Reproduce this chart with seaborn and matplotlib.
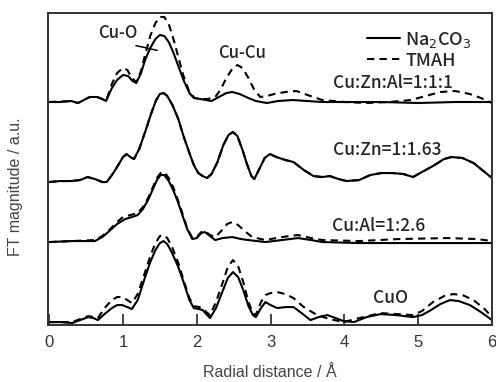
import numpy as np
import pandas as pd
import seaborn as sns
import matplotlib
matplotlib.use("Agg")
import matplotlib.pyplot as plt
from matplotlib.lines import Line2D

# (R in Å, FT magnitude above the curve's own baseline)
znal_na = [(0.0, 0), (0.15, 0), (0.3, 1), (0.39, -1), (0.47, 2), (0.55, 5), (0.65, 5), (0.72, 3),
           (0.77, 1), (0.85, 14), (0.92, 22), (1.0, 27), (1.07, 26), (1.13, 21), (1.18, 19),
           (1.24, 28), (1.3, 42), (1.37, 54), (1.44, 63), (1.5, 67), (1.56, 66), (1.62, 60),
           (1.68, 50), (1.75, 36), (1.82, 22), (1.9, 9), (1.96, 4), (2.05, 3), (2.12, 2), (2.2, 1),
           (2.3, 5), (2.4, 9), (2.48, 10), (2.58, 8), (2.7, 4), (2.8, 1), (2.95, -1), (3.1, 1),
           (3.3, 2), (3.5, 1), (3.7, 0), (4.0, 0), (4.5, 0), (5.0, -1), (5.5, 0), (6.0, 0)]
znal_tm = [(0.0, 0), (0.3, 1), (0.39, -1), (0.47, 2), (0.55, 5), (0.65, 5), (0.72, 3), (0.77, 1),
           (0.85, 18), (0.92, 29), (1.0, 34), (1.06, 32), (1.12, 24), (1.18, 20), (1.24, 30),
           (1.3, 47), (1.37, 66), (1.44, 79), (1.5, 85), (1.56, 85), (1.62, 78), (1.68, 64),
           (1.75, 45), (1.82, 26), (1.9, 10), (1.97, 4), (2.05, 3), (2.15, 3), (2.25, 5), (2.32, 12),
           (2.4, 24), (2.48, 33), (2.55, 37), (2.62, 34), (2.7, 24), (2.78, 12), (2.86, 5), (2.95, 6),
           (3.05, 8), (3.2, 10), (3.35, 11), (3.5, 7), (3.7, 2), (4.0, 0), (4.3, -1), (4.6, 0),
           (4.9, 2), (5.1, 6), (5.3, 10), (5.5, 11), (5.7, 8), (5.85, 4), (6.0, -1)]

zn_na = [(0.0, 0), (0.15, 1), (0.3, 1), (0.42, 2), (0.52, 5), (0.62, 3), (0.72, 0), (0.78, 0),
         (0.85, 7), (0.92, 15), (1.0, 25), (1.05, 28), (1.1, 25), (1.15, 23), (1.22, 33), (1.3, 50),
         (1.38, 68), (1.45, 82), (1.5, 88), (1.55, 89), (1.6, 86), (1.67, 77), (1.75, 63), (1.82, 46),
         (1.9, 29), (1.96, 17), (2.02, 9), (2.08, 6), (2.14, 4), (2.2, 8), (2.28, 20), (2.36, 37),
         (2.43, 47), (2.49, 50), (2.55, 46), (2.62, 32), (2.68, 18), (2.74, 6), (2.78, 3), (2.84, 12),
         (2.92, 24), (2.99, 28), (3.08, 25), (3.2, 22), (3.31, 20), (3.45, 12), (3.58, 6), (3.7, 5),
         (3.8, 6), (3.92, 3), (4.03, 1), (4.2, 2), (4.35, 7), (4.5, 9), (4.65, 9), (4.8, 8), (4.93, 5),
         (5.05, 10), (5.2, 16), (5.35, 23), (5.45, 25), (5.6, 24), (5.75, 19), (5.9, 10), (6.0, 4)]
zn_tm = zn_na  # TMAH trace lies on top of the Na2CO3 one for this sample

al_na = [(0.0, 0), (0.31, 1), (0.62, 1), (0.72, 5), (0.8, 10), (0.92, 18), (1.03, 23), (1.12, 25),
         (1.2, 27), (1.27, 33), (1.34, 42), (1.4, 52), (1.46, 62), (1.51, 67), (1.56, 67), (1.62, 61),
         (1.68, 52), (1.74, 41), (1.8, 28), (1.87, 13), (1.94, 3), (2.0, 4), (2.06, 9), (2.11, 10),
         (2.18, 6), (2.25, 2), (2.35, 4), (2.48, 5), (2.6, 3), (2.7, 2), (2.93, 0), (3.15, 2),
         (3.37, 4), (3.55, 2), (3.7, 0), (4.2, -1), (5.0, -1), (6.0, -1)]
al_tm = [(0.0, 0), (0.31, 1), (0.62, 2), (0.72, 6), (0.8, 11), (0.92, 20), (1.0, 25), (1.1, 27),
         (1.2, 29), (1.27, 35), (1.34, 44), (1.4, 54), (1.46, 64), (1.51, 69), (1.56, 70), (1.62, 64),
         (1.68, 55), (1.74, 43), (1.8, 30), (1.87, 14), (1.94, 4), (2.0, 5), (2.06, 10), (2.11, 11),
         (2.18, 7), (2.25, 5), (2.33, 11), (2.41, 18), (2.48, 20), (2.56, 17), (2.65, 11), (2.75, 5),
         (2.93, 2), (3.15, 5), (3.37, 7), (3.55, 4), (3.7, 2), (4.2, 1), (4.73, 3), (5.4, 4),
         (5.8, 3), (6.0, 1)]

cuo_na = [(0.0, 0), (0.15, 0), (0.31, -1), (0.42, 2), (0.53, 5), (0.6, 4), (0.66, 2), (0.75, 8),
          (0.85, 14), (0.92, 17), (0.99, 17), (1.06, 15), (1.12, 13), (1.2, 22), (1.3, 45), (1.37, 60),
          (1.44, 72), (1.5, 79), (1.55, 81), (1.6, 78), (1.66, 70), (1.75, 55), (1.83, 38), (1.9, 22),
          (1.96, 14), (2.03, 13), (2.08, 12), (2.13, 8), (2.18, 4), (2.26, 14), (2.34, 29), (2.42, 44),
          (2.49, 50), (2.56, 45), (2.63, 32), (2.7, 16), (2.76, 7), (2.8, 5), (2.87, 14), (2.93, 20),
          (3.0, 17), (3.09, 14), (3.2, 15), (3.31, 15), (3.42, 9), (3.54, 2), (3.65, 5), (3.77, 7),
          (3.88, 4), (3.99, 1), (4.13, 0), (4.3, 5), (4.49, 8), (4.7, 7), (4.93, 5), (5.05, 7),
          (5.15, 11), (5.3, 18), (5.43, 22), (5.55, 21), (5.7, 17), (5.85, 10), (6.0, 2)]
cuo_tm = [(0.0, 0), (0.31, 0), (0.42, 3), (0.53, 6), (0.6, 5), (0.66, 4), (0.75, 14), (0.85, 22),
          (0.92, 25), (0.99, 25), (1.06, 22), (1.12, 19), (1.2, 28), (1.3, 50), (1.37, 66), (1.44, 79),
          (1.5, 86), (1.55, 87), (1.6, 84), (1.66, 76), (1.75, 59), (1.83, 40), (1.9, 24), (1.96, 16),
          (2.03, 15), (2.08, 14), (2.13, 10), (2.18, 7), (2.26, 20), (2.34, 37), (2.42, 55), (2.49, 62),
          (2.56, 56), (2.63, 40), (2.7, 20), (2.76, 9), (2.8, 7), (2.87, 20), (2.93, 27), (3.0, 29),
          (3.09, 30), (3.2, 28), (3.31, 24), (3.45, 15), (3.63, 7), (3.8, 3), (3.99, 0), (4.2, 4),
          (4.49, 9), (4.7, 8), (4.93, 7), (5.05, 11), (5.2, 20), (5.35, 26), (5.47, 28), (5.6, 27),
          (5.75, 22), (5.9, 13), (6.0, 5)]

samples = ["Cu:Zn:Al=1:1:1", "Cu:Zn=1:1.63", "Cu:Al=1:2.6", "CuO"]
offsets = [223, 143, 83, 3]
curves = {
    "Cu:Zn:Al=1:1:1": (znal_na, znal_tm),
    "Cu:Zn=1:1.63": (zn_na, zn_tm),
    "Cu:Al=1:2.6": (al_na, al_tm),
    "CuO": (cuo_na, cuo_tm),
}
methods = ["Na$_2$CO$_3$", "TMAH"]
label_pos = [(4.66, 242), (4.58, 175), (4.47, 99), (4.62, 27)]
DASH = (0, (3.5, 2.5))

sns.set_style("ticks")
plt.rcParams["font.family"] = ["Liberation Sans", "DejaVu Sans"]
lab_font = ["Noto Sans CJK JP", "DejaVu Sans"]

fig = plt.figure(figsize=(4.96, 3.82), dpi=100)
ax = fig.add_axes([0.097, 0.149, 0.895, 0.817])

for s, off in zip(samples, offsets):
    for pts, meth in zip(curves[s], methods):
        df = pd.DataFrame(pts, columns=["r", "mag"])
        df["y"] = df["mag"] + off
        ls = DASH if meth == "TMAH" else "-"
        sns.lineplot(data=df, x="r", y="y", ax=ax, color="black", lw=1.5,
                     linestyle=ls, estimator=None, sort=False)

for s, (x, y) in zip(samples, label_pos):
    ax.text(x, y, s, ha="center", va="center", fontsize=12.5,
            family=lab_font, fontweight="medium")

ax.annotate("", xy=(1.50, 274), xytext=(1.14, 280),
            arrowprops=dict(arrowstyle="-", color="black", lw=1.1))
ax.text(0.935, 292, "Cu-O", ha="center", va="center", fontsize=12,
        family=lab_font, fontweight="medium")
ax.text(2.615, 272, "Cu-Cu", ha="center", va="center", fontsize=12,
        family=lab_font, fontweight="medium")

handles = [Line2D([], [], color="black", lw=1.5),
           Line2D([], [], color="black", lw=1.5, linestyle=DASH)]
leg = ax.legend(handles, methods, loc="upper right", bbox_to_anchor=(0.975, 0.975),
                frameon=False, fontsize=13, handlelength=1.8, handletextpad=0.3,
                labelspacing=0.1, borderpad=0)
for t in leg.get_texts():
    t.set_family(lab_font)
    t.set_fontweight("medium")

ax.set_xlim(-0.014, 6.0)
ax.set_ylim(0, 312)
ax.set_xticks(range(7))
ax.set_yticks([])
ax.tick_params(axis="x", direction="in", length=8, width=1.2, pad=7,
               labelsize=12, labelcolor="#333333", top=False)
for sp in ax.spines.values():
    sp.set_visible(True)
    sp.set_linewidth(1.4)
    sp.set_color("#333333")
ax.set_xlabel("Radial distance / Å", fontsize=11.5, color="#444444", labelpad=11)
ax.set_ylabel("FT magnitude / a.u.", fontsize=11.5, color="#444444")
ax.yaxis.set_label_coords(-0.056, 0.445)

fig.savefig("out.png", dpi=100)
